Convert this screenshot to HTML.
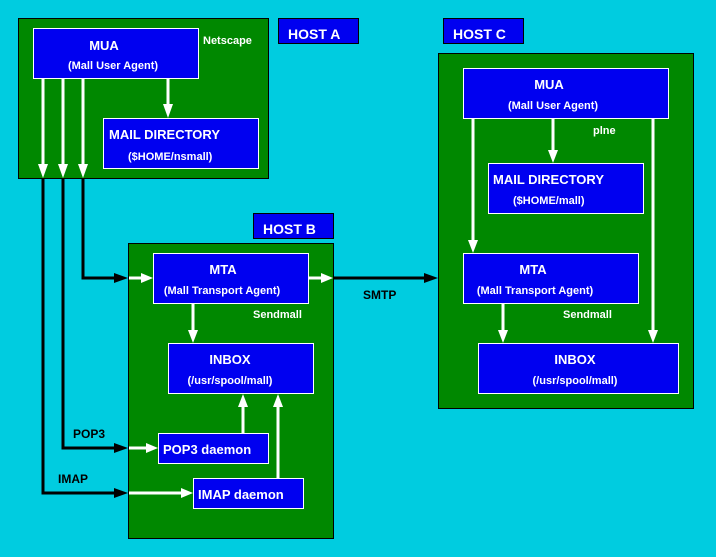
<!DOCTYPE html>
<html><head><style>
html,body{margin:0;padding:0;background:#00cce0;}
svg{display:block}
text{font-family:"Liberation Sans",Arial,sans-serif;font-weight:bold;fill:#fff;}
</style></head><body>
<svg width="716" height="557" viewBox="0 0 716 557" xmlns="http://www.w3.org/2000/svg">
<rect width="716" height="557" fill="#00cce0"/>
<!-- HOST A -->
<rect x="18.5" y="18.5" width="250" height="160" fill="#008800" stroke="#000"/>
<rect x="278.5" y="18.5" width="80" height="25" fill="#0000f0" stroke="#000"/>
<text x="288" y="39" font-size="14">HOST A</text>
<rect x="33.5" y="28.5" width="165" height="50" fill="#0000f0" stroke="#fff"/>
<text x="104" y="50" font-size="13" text-anchor="middle">MUA</text>
<text x="113" y="69" font-size="11" text-anchor="middle">(Mall User Agent)</text>
<text x="203" y="44" font-size="11">Netscape</text>
<rect x="103.5" y="118.5" width="155" height="50" fill="#0000f0" stroke="#fff"/>
<text x="109" y="139" font-size="13">MAIL DIRECTORY</text>
<text x="128" y="160" font-size="11">($HOME/nsmall)</text>
<g stroke="#fff" stroke-width="3" fill="none">
<line x1="43" y1="79" x2="43" y2="168"/>
<line x1="63" y1="79" x2="63" y2="168"/>
<line x1="83" y1="79" x2="83" y2="168"/>
<line x1="168" y1="79" x2="168" y2="108"/>
</g>
<g fill="#fff">
<polygon points="38,164 48,164 43,178"/>
<polygon points="58,164 68,164 63,178"/>
<polygon points="78,164 88,164 83,178"/>
<polygon points="163,104 173,104 168,118"/>
</g>
<!-- black connectors -->
<g stroke="#000" stroke-width="3" fill="none">
<polyline points="83,179 83,278 118,278"/>
<polyline points="63,179 63,448 118,448"/>
<polyline points="43,179 43,493 118,493"/>
<line x1="334" y1="278" x2="428" y2="278"/>
</g>
<g fill="#000">
<polygon points="114,273 128,278 114,283"/>
<polygon points="114,443 128,448 114,453"/>
<polygon points="114,488 128,493 114,498"/>
<polygon points="424,273 438,278 424,283"/>
</g>
<text x="73" y="438" font-size="12" style="fill:#000">POP3</text>
<text x="58" y="483" font-size="12" style="fill:#000">IMAP</text>
<text x="363" y="299" font-size="12" style="fill:#000">SMTP</text>
<!-- HOST B -->
<rect x="253.5" y="213.5" width="80" height="25" fill="#0000f0" stroke="#000"/>
<text x="263" y="234" font-size="14">HOST B</text>
<rect x="128.5" y="243.5" width="205" height="295" fill="#008800" stroke="#000"/>
<rect x="153.5" y="253.5" width="155" height="50" fill="#0000f0" stroke="#fff"/>
<text x="223" y="274" font-size="13" text-anchor="middle">MTA</text>
<text x="222" y="294" font-size="11" text-anchor="middle">(Mall Transport Agent)</text>
<text x="253" y="318" font-size="11">Sendmall</text>
<rect x="168.5" y="343.5" width="145" height="50" fill="#0000f0" stroke="#fff"/>
<text x="230" y="364" font-size="13" text-anchor="middle">INBOX</text>
<text x="230" y="384" font-size="11" text-anchor="middle">(/usr/spool/mall)</text>
<rect x="158.5" y="433.5" width="110" height="30" fill="#0000f0" stroke="#fff"/>
<text x="163" y="454" font-size="13">POP3 daemon</text>
<rect x="193.5" y="478.5" width="110" height="30" fill="#0000f0" stroke="#fff"/>
<text x="198" y="499" font-size="13">IMAP daemon</text>
<g stroke="#fff" stroke-width="3" fill="none">
<line x1="129" y1="278" x2="145" y2="278"/>
<line x1="129" y1="448" x2="150" y2="448"/>
<line x1="129" y1="493" x2="185" y2="493"/>
<line x1="309" y1="278" x2="325" y2="278"/>
<line x1="193" y1="304" x2="193" y2="334"/>
<line x1="243" y1="433" x2="243" y2="404"/>
<line x1="278" y1="478" x2="278" y2="404"/>
<line x1="439" y1="278" x2="455" y2="278"/>
</g>
<g fill="#fff">
<polygon points="141,273 153,278 141,283"/>
<polygon points="146,443 158,448 146,453"/>
<polygon points="181,488 193,493 181,498"/>
<polygon points="321,273 333,278 321,283"/>
<polygon points="188,330 198,330 193,343"/>
<polygon points="238,407 248,407 243,394"/>
<polygon points="273,407 283,407 278,394"/>
<polygon points="451,273 463,278 451,283"/>
</g>
<!-- HOST C -->
<rect x="443.5" y="18.5" width="80" height="25" fill="#0000f0" stroke="#000"/>
<text x="453" y="39" font-size="14">HOST C</text>
<rect x="438.5" y="53.5" width="255" height="355" fill="#008800" stroke="#000"/>
<rect x="463.5" y="68.5" width="205" height="50" fill="#0000f0" stroke="#fff"/>
<text x="549" y="89" font-size="13" text-anchor="middle">MUA</text>
<text x="553" y="109" font-size="11" text-anchor="middle">(Mall User Agent)</text>
<text x="593" y="134" font-size="11">plne</text>
<rect x="488.5" y="163.5" width="155" height="50" fill="#0000f0" stroke="#fff"/>
<text x="493" y="184" font-size="13">MAIL DIRECTORY</text>
<text x="513" y="204" font-size="11">($HOME/mall)</text>
<rect x="463.5" y="253.5" width="175" height="50" fill="#0000f0" stroke="#fff"/>
<text x="533" y="274" font-size="13" text-anchor="middle">MTA</text>
<text x="535" y="294" font-size="11" text-anchor="middle">(Mall Transport Agent)</text>
<text x="563" y="318" font-size="11">Sendmall</text>
<rect x="478.5" y="343.5" width="200" height="50" fill="#0000f0" stroke="#fff"/>
<text x="575" y="364" font-size="13" text-anchor="middle">INBOX</text>
<text x="575" y="384" font-size="11" text-anchor="middle">(/usr/spool/mall)</text>
<g stroke="#fff" stroke-width="3" fill="none">
<line x1="473" y1="119" x2="473" y2="244"/>
<line x1="553" y1="119" x2="553" y2="154"/>
<line x1="653" y1="119" x2="653" y2="334"/>
<line x1="503" y1="304" x2="503" y2="334"/>
</g>
<g fill="#fff">
<polygon points="468,240 478,240 473,253"/>
<polygon points="548,150 558,150 553,163"/>
<polygon points="648,330 658,330 653,343"/>
<polygon points="498,330 508,330 503,343"/>
</g>
</svg>
</body></html>
